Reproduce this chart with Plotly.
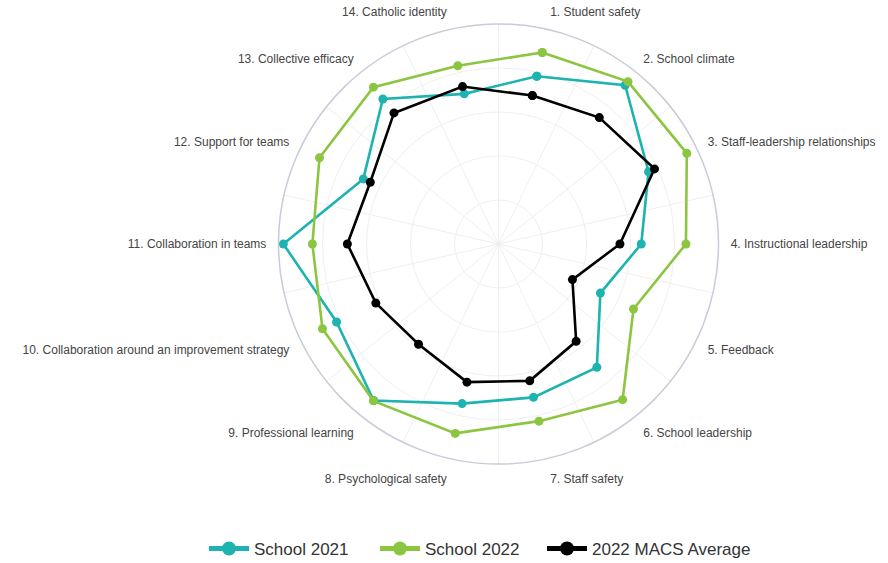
import plotly.graph_objects as go

categories = [
    "1. Student safety", "2. School climate", "3. Staff-leadership relationships",
    "4. Instructional leadership", "5. Feedback", "6. School leadership",
    "7. Staff safety", "8. Psychological safety", "9. Professional learning",
    "10. Collaboration around an improvement strategy", "11. Collaboration in teams",
    "12. Support for teams", "13. Collective efficacy", "14. Catholic identity",
]
school_2021 = [78.2, 92.3, 75.7, 64.9, 51.4, 71.7, 71.5, 74.4, 91.0, 81.7, 97.8, 68.2, 84.3, 70.0]
school_2022 = [89.3, 94.4, 95.0, 85.2, 68.1, 90.5, 82.6, 88.3, 91.2, 88.8, 84.6, 90.3, 91.2, 83.1]
macs_2022 = [69.2, 73.5, 78.7, 55.2, 37.3, 56.6, 63.8, 64.4, 58.3, 61.9, 68.7, 64.7, 76.2, 73.4]
series_names = ["School 2021", "School 2022", "2022 MACS Average"]
series_values = [school_2021, school_2022, macs_2022]
series_colors = ["#1db3b0", "#8cc540", "#000000"]
legend_ids = ["legend", "legend2", "legend3"]

n = len(categories)
step = 360.0 / n

fig = go.Figure()
# dummy trace for the spoke-grid subplot
fig.add_trace(go.Scatterpolar(r=[None], theta=[None], subplot="polar",
                              showlegend=False, hoverinfo="skip"))

for name, vals, col in zip(series_names, series_values, series_colors):
    fig.add_trace(go.Scatterpolar(
        r=vals + [vals[0]], theta=categories + [categories[0]], name=name,
        subplot="polar2", mode="lines+markers", showlegend=False,
        line=dict(color=col, width=2.6),
        marker=dict(color=col, size=9),
    ))
# legend entries (thicker symbols as in the reference legend)
for name, col, lg in zip(series_names, series_colors, legend_ids):
    fig.add_trace(go.Scatterpolar(
        r=[None], theta=[categories[0]], name=name, subplot="polar2",
        mode="lines+markers", line=dict(color=col, width=5),
        marker=dict(color=col, size=14), hoverinfo="skip", legend=lg,
    ))

cx, cy, R = 498.5, 244.0, 220.0
W, H = 888, 563
dom_x = [(cx - R) / W, (cx + R) / W]
dom_y = [(H - cy - R) / H, (H - cy + R) / H]

legend_style = dict(orientation="h", xanchor="left", y=(H - 549) / H,
                    yanchor="middle", font=dict(size=17, color="#333"),
                    itemwidth=40, bgcolor="rgba(0,0,0,0)")
legend_px = [204, 375, 542]

grid_col = "#efefef"
fig.update_layout(
    width=W, height=H,
    margin=dict(l=0, r=0, t=0, b=0, autoexpand=False),
    paper_bgcolor="white",
    font=dict(family="Liberation Sans, Arial, sans-serif", color="#444"),
    polar=dict(
        domain=dict(x=dom_x, y=dom_y),
        bgcolor="white",
        angularaxis=dict(type="linear", rotation=90, direction="clockwise",
                         tickmode="array", tickvals=[i * step for i in range(n)],
                         showticklabels=False, ticks="", showline=False,
                         showgrid=True, gridcolor=grid_col, gridwidth=1),
        radialaxis=dict(visible=False, range=[0, 100]),
    ),
    polar2=dict(
        domain=dict(x=dom_x, y=dom_y),
        bgcolor="rgba(0,0,0,0)",
        angularaxis=dict(type="category", categoryarray=categories,
                         rotation=90 - step / 2, direction="clockwise",
                         showgrid=False, showline=True, linecolor="#c8ccd8",
                         linewidth=1.5, ticks="outside", ticklen=9,
                         tickcolor="rgba(0,0,0,0)",
                         tickfont=dict(size=12, color="#444")),
        radialaxis=dict(range=[0, 100], tickvals=[20, 40, 60, 80],
                        showticklabels=False, ticks="", showline=False,
                        showgrid=True, gridcolor=grid_col, gridwidth=1),
    ),
    legend=dict(legend_style, x=legend_px[0] / W),
    legend2=dict(legend_style, x=legend_px[1] / W),
    legend3=dict(legend_style, x=legend_px[2] / W),
)

fig.write_html("out.html", config={"displayModeBar": False},
               post_script="document.body.style.margin='0';document.body.style.overflow='hidden';")
